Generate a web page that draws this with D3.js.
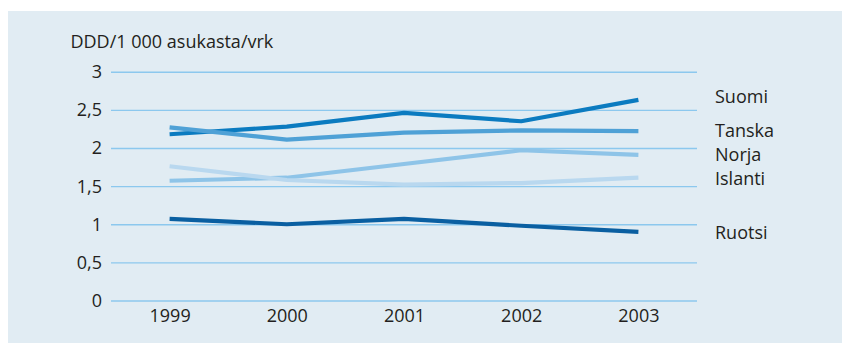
<!DOCTYPE html>
<html>
<head>
<meta charset="utf-8">
<script src="https://cdn.jsdelivr.net/npm/d3@7"></script>
<style>
  html, body { margin: 0; padding: 0; background: #ffffff; }
  svg { display: block; }
  text { font-family: "Open Sans", "Liberation Sans", sans-serif; fill: #231f20; }
</style>
</head>
<body>
<svg id="chart" width="842" height="345"></svg>
<script>
// Vuodet ja maakohtaiset sarjat (DDD/1 000 asukasta/vrk)
const years = ["1999", "2000", "2001", "2002", "2003"];
const suomi   = [2.18, 2.28, 2.46, 2.35, 2.63];
const tanska  = [2.27, 2.11, 2.20, 2.23, 2.22];
const norja   = [1.57, 1.61, 1.79, 1.97, 1.91];
const islanti = [1.76, 1.58, 1.52, 1.54, 1.61];
const ruotsi  = [1.07, 1.00, 1.07, 0.98, 0.90];
const yTicks  = [0, 0.5, 1, 1.5, 2, 2.5, 3];
const unitLabel = "DDD/1 000 asukasta/vrk";

const series = [
  { name: "Suomi",   values: suomi,   color: "#0b7bc0", labelY: 103 },
  { name: "Tanska",  values: tanska,  color: "#4fa1d6", labelY: 137 },
  { name: "Norja",   values: norja,   color: "#8ec4e8", labelY: 161 },
  { name: "Islanti", values: islanti, color: "#b9d8ef", labelY: 185 },
  { name: "Ruotsi",  values: ruotsi,  color: "#0a5fa1", labelY: 238.5 }
];
// piirtojärjestys: tummat viivat alle
const drawOrder = ["Ruotsi", "Suomi", "Tanska", "Norja", "Islanti"];

const fi = d3.formatLocale({ decimal: ",", thousands: "\u00a0", grouping: [3], currency: ["", " €"] });
const fmt = fi.format("~g");

const svg = d3.select("#chart");

// taustapaneeli
svg.append("rect")
  .attr("x", 8).attr("y", 11)
  .attr("width", 834).attr("height", 332)
  .attr("fill", "#e1ecf3");

const x = d3.scalePoint().domain(years).range([111, 697]).padding(0.5);
const y = d3.scaleLinear().domain([0, 3]).range([300.5, 71.7]);

// vaakasuorat apuviivat ja y-akselin arvot
const yAxis = svg.append("g")
  .attr("transform", "translate(111,0)")
  .call(d3.axisLeft(y).tickValues(yTicks).tickFormat(fmt).tickSize(-586).tickPadding(9));
yAxis.select(".domain").remove();
yAxis.selectAll(".tick line").attr("stroke", "#8cc8ee").attr("stroke-width", 1.4);
yAxis.selectAll(".tick text")
  .attr("font-size", 18)
  .attr("font-family", null)
  .attr("fill", "#231f20")
  .attr("dy", "0.33em");

// x-akselin vuodet
const xAxis = svg.append("g")
  .attr("transform", "translate(0,300.5)")
  .call(d3.axisBottom(x).tickSize(0).tickPadding(0));
xAxis.select(".domain").remove();
xAxis.selectAll(".tick text")
  .attr("font-size", 18)
  .attr("font-family", null)
  .attr("fill", "#231f20")
  .attr("dy", null)
  .attr("y", 21.5);

// yksikköteksti
svg.append("text")
  .attr("x", 70.5).attr("y", 48.3)
  .attr("font-size", 18)
  .text(unitLabel);

// viivat
const line = d3.line()
  .x((d, i) => x(years[i]))
  .y(d => y(d));

const byName = new Map(series.map(s => [s.name, s]));
svg.append("g")
  .selectAll("path")
  .data(drawOrder.map(n => byName.get(n)))
  .join("path")
  .attr("d", s => line(s.values))
  .attr("fill", "none")
  .attr("stroke", s => s.color)
  .attr("stroke-width", 4.2)
  .attr("stroke-linejoin", "round")
  .attr("stroke-linecap", "butt");

// maiden nimet oikealla
svg.append("g")
  .selectAll("text")
  .data(series)
  .join("text")
  .attr("x", 715)
  .attr("y", s => s.labelY)
  .attr("font-size", 18)
  .text(s => s.name);
</script>
</body>
</html>
